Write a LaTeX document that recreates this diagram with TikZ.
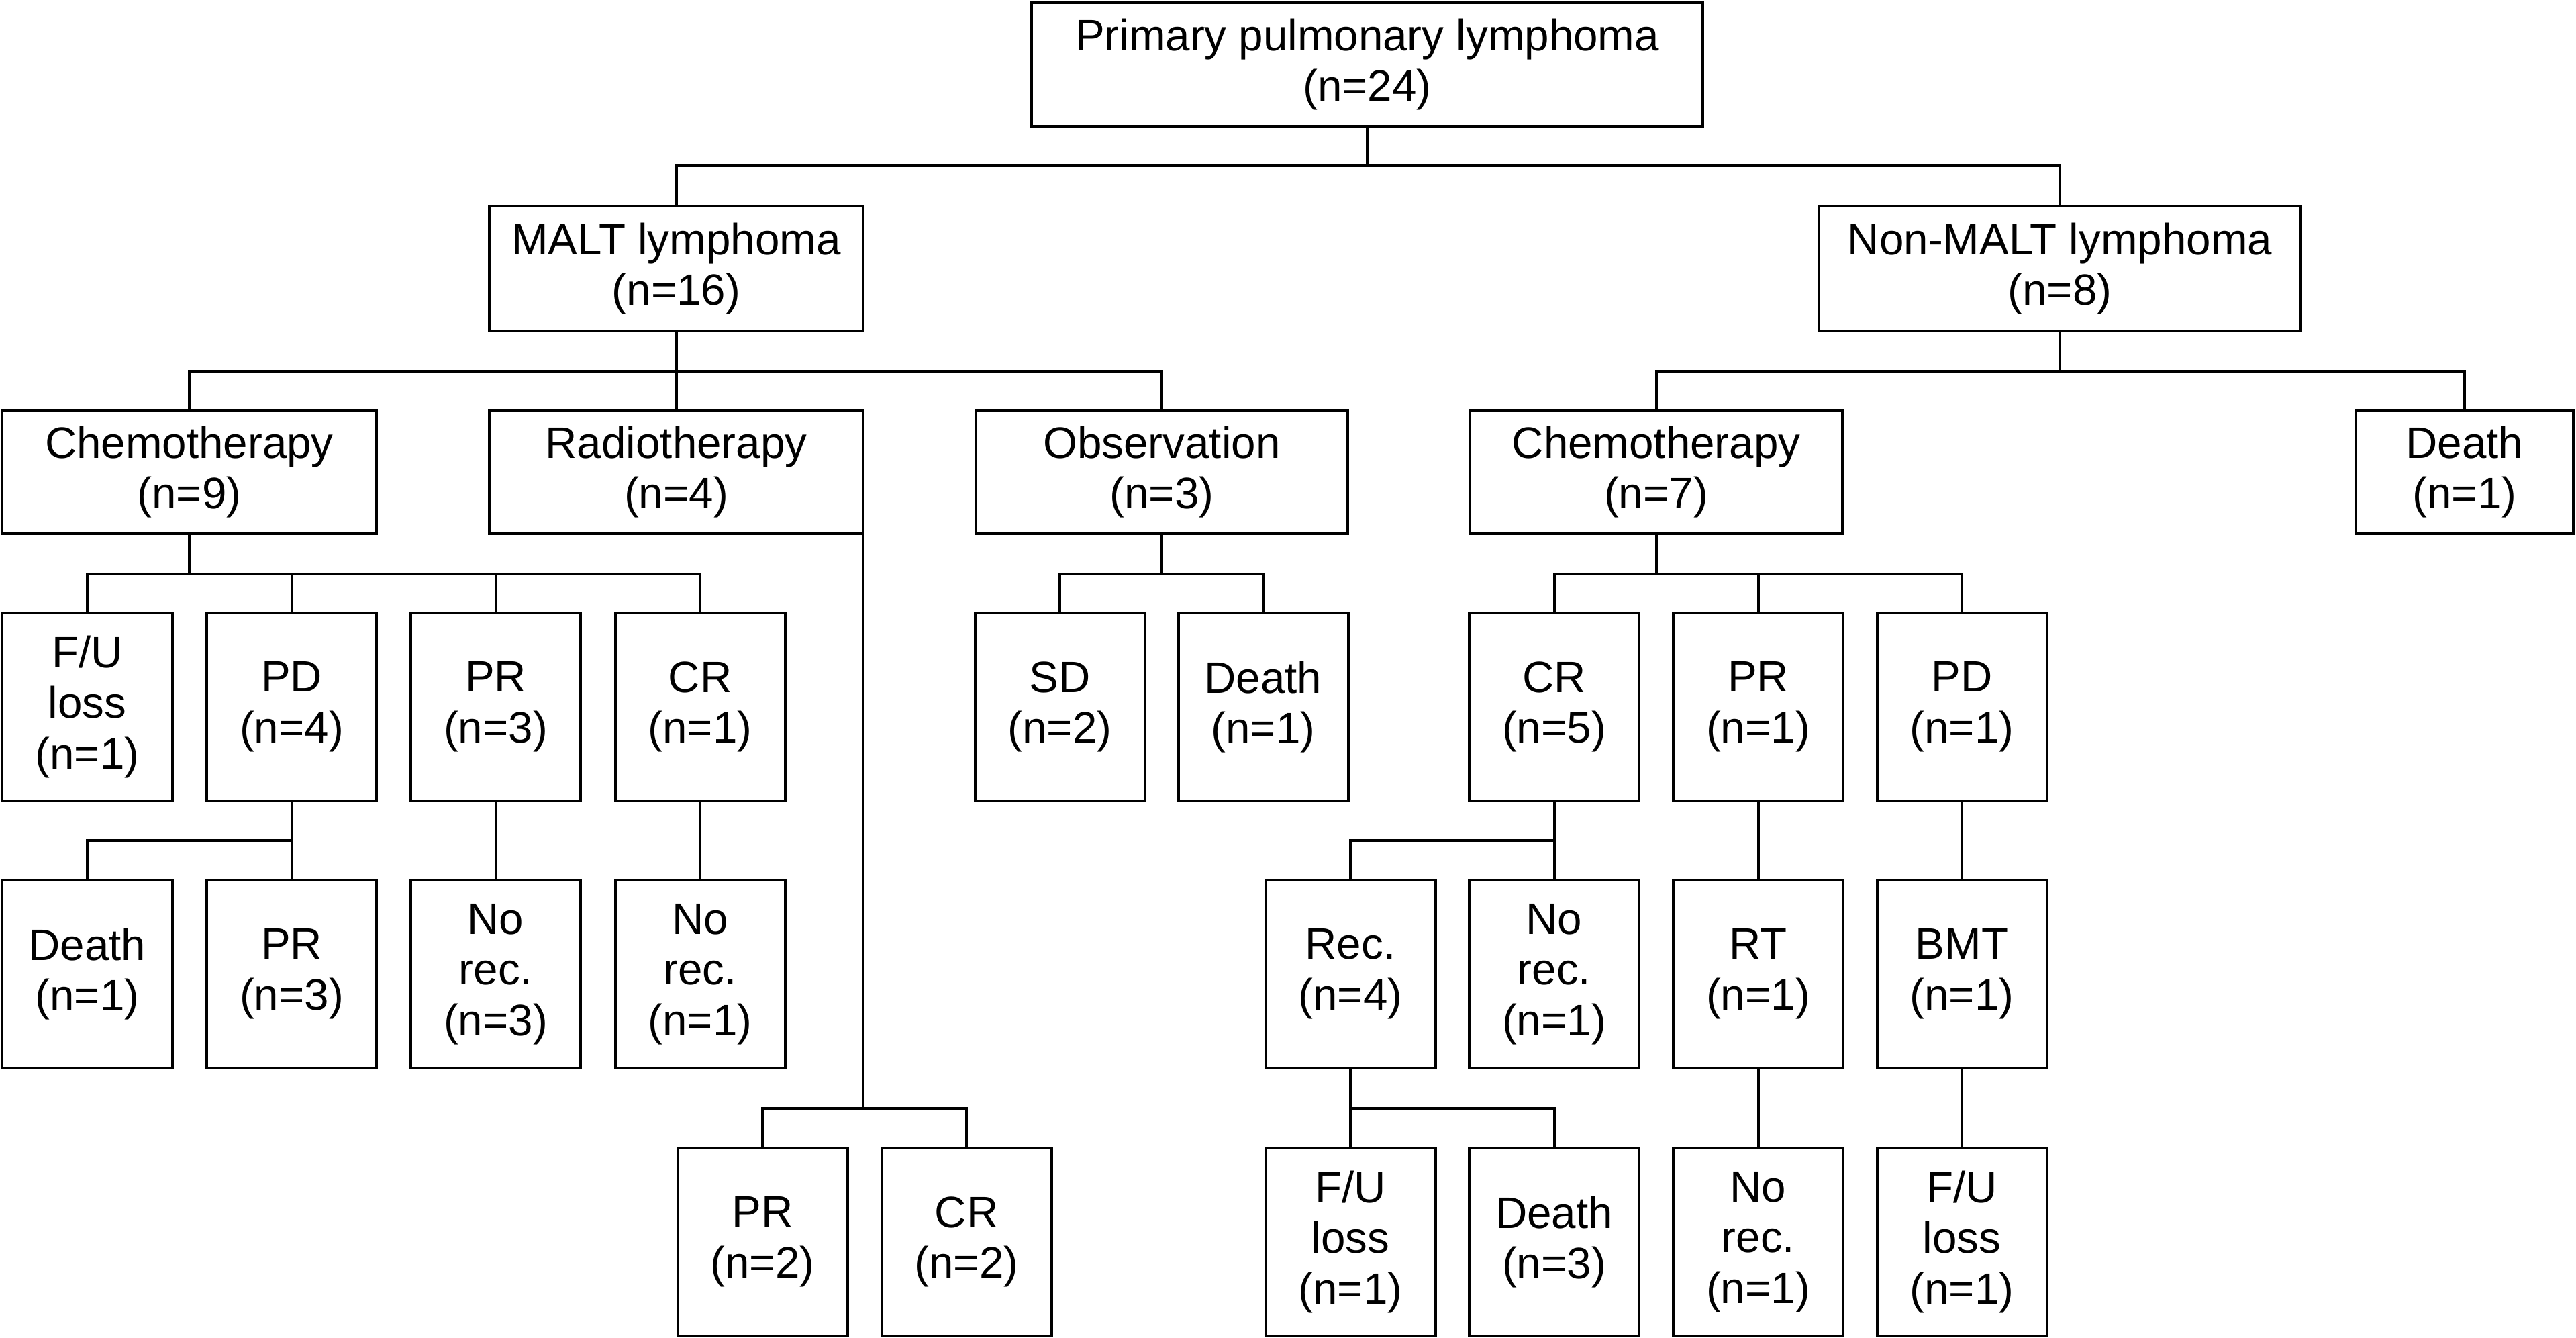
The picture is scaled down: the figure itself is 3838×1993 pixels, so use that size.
\documentclass[tikz,border=0pt]{standalone}
\usepackage{fontspec}
\setmainfont{Liberation Sans}
\begin{document}
\begin{tikzpicture}[x=0.2pt,y=-0.2pt,
  box/.style={draw, line width=0.8pt, inner sep=0pt, outer sep=0pt, align=center,
    font=\fontsize{13.1}{15.1}\selectfont},
  rowa/.style={box, minimum height=36.8pt},
  rowb/.style={box, minimum height=37.2pt},
  small/.style={box, minimum width=50.6pt, minimum height=56pt},
  conn/.style={line width=0.8pt}]
\useasboundingbox (0,0) rectangle (3838,1993);
% level 0
\node[rowa, minimum width=200pt] (top) at (2037,96) {Primary pulmonary lymphoma\\(n=24)};
% level 1
\node[rowb, minimum width=111.4pt] (malt) at (1007.5,400) {MALT lymphoma\\(n=16)};
\node[rowb, minimum width=143.6pt] (nonmalt) at (3069,400) {Non-MALT lymphoma\\(n=8)};
% level 2
\node[rowa, minimum width=111.6pt] (chemoA) at (282,703) {Chemotherapy\\(n=9)};
\node[rowa, minimum width=111.4pt] (radio) at (1007.5,703) {Radiotherapy\\(n=4)};
\node[rowa, minimum width=110.8pt] (obs) at (1731,703) {Observation\\(n=3)};
\node[rowa, minimum width=111pt] (chemoB) at (2467.5,703) {Chemotherapy\\(n=7)};
\node[rowa, minimum width=64.8pt] (deathB) at (3672,703) {Death\\(n=1)};
% level 3
\node[small] (fuA) at (130,1053) {F/U\\loss\\(n=1)};
\node[small] (pdA) at (434.5,1053) {PD\\(n=4)};
\node[small] (prA) at (738.5,1053) {PR\\(n=3)};
\node[small] (crA) at (1043,1053) {CR\\(n=1)};
\node[small] (sd) at (1579,1053) {SD\\(n=2)};
\node[small] (deathO) at (1882,1053) {Death\\(n=1)};
\node[small] (crB) at (2315.5,1053) {CR\\(n=5)};
\node[small] (prB) at (2619.5,1053) {PR\\(n=1)};
\node[small] (pdB) at (2923,1053) {PD\\(n=1)};
% level 4
\node[small] (deathA) at (130,1451) {Death\\(n=1)};
\node[small] (prA2) at (434.5,1451) {PR\\(n=3)};
\node[small] (norecA) at (738.5,1451) {No\\rec.\\(n=3)};
\node[small] (norecB) at (1043,1451) {No\\rec.\\(n=1)};
\node[small] (rec) at (2012,1451) {Rec.\\(n=4)};
\node[small] (norecC) at (2315.5,1451) {No\\rec.\\(n=1)};
\node[small] (rt) at (2619.5,1451) {RT\\(n=1)};
\node[small] (bmt) at (2923,1451) {BMT\\(n=1)};
% level 5
\node[small] (prR) at (1136,1850) {PR\\(n=2)};
\node[small] (crR) at (1440,1850) {CR\\(n=2)};
\node[small] (fuB) at (2012,1850) {F/U\\loss\\(n=1)};
\node[small] (deathC) at (2315.5,1850) {Death\\(n=3)};
\node[small] (norecD) at (2619.5,1850) {No\\rec.\\(n=1)};
\node[small] (fuC) at (2923,1850) {F/U\\loss\\(n=1)};
% connectors
\draw[conn] (top.south) -- ++(0,59) -| (malt.north);
\draw[conn] (top.south) -- ++(0,59) -| (nonmalt.north);
\draw[conn] (malt.south) -- ++(0,60) -| (chemoA.north);
\draw[conn] (malt.south) -- (radio.north);
\draw[conn] (malt.south) -- ++(0,60) -| (obs.north);
\draw[conn] (nonmalt.south) -- ++(0,60) -| (chemoB.north);
\draw[conn] (nonmalt.south) -- ++(0,60) -| (deathB.north);
\draw[conn] (chemoA.south) -- ++(0,60) -| (fuA.north);
\draw[conn] (chemoA.south) -- ++(0,60) -| (pdA.north);
\draw[conn] (chemoA.south) -- ++(0,60) -| (prA.north);
\draw[conn] (chemoA.south) -- ++(0,60) -| (crA.north);
\draw[conn] (obs.south) -- ++(0,60) -| (sd.north);
\draw[conn] (obs.south) -- ++(0,60) -| (deathO.north);
\draw[conn] (chemoB.south) -- ++(0,60) -| (crB.north);
\draw[conn] (chemoB.south) -- ++(0,60) -| (prB.north);
\draw[conn] (chemoB.south) -- ++(0,60) -| (pdB.north);
\draw[conn] (pdA.south) -- ++(0,59) -| (deathA.north);
\draw[conn] (pdA.south) -- (prA2.north);
\draw[conn] (prA.south) -- (norecA.north);
\draw[conn] (crA.south) -- (norecB.north);
\draw[conn] (crB.south) -- ++(0,59) -| (rec.north);
\draw[conn] (crB.south) -- (norecC.north);
\draw[conn] (prB.south) -- (rt.north);
\draw[conn] (pdB.south) -- (bmt.north);
\draw[conn] (rec.south) -- ++(0,60) -| (fuB.north);
\draw[conn] (rec.south) -- ++(0,60) -| (deathC.north);
\draw[conn] (rt.south) -- (norecD.north);
\draw[conn] (bmt.south) -- (fuC.north);
\draw[conn] (radio.south east) -- ++(0,856) -| (prR.north);
\draw[conn] (radio.south east) -- ++(0,856) -| (crR.north);
\end{tikzpicture}
\end{document}
